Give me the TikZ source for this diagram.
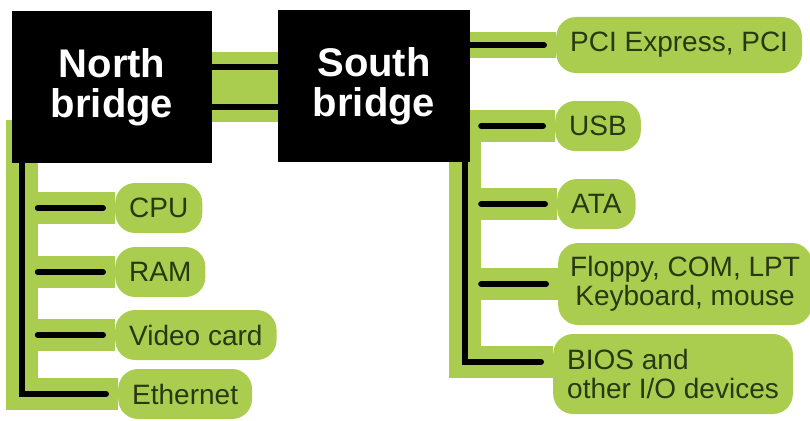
\documentclass[tikz,border=0pt]{standalone}
\usepackage{fontspec}
\setmainfont{Liberation Sans}
\usetikzlibrary{positioning,backgrounds}
\definecolor{busgreen}{RGB}{170,205,80}
\definecolor{labeltext}{RGB}{40,56,18}
\begin{document}
\begin{tikzpicture}[x=1pt, y=-1pt, line join=miter,
bridge node/.style={rectangle,fill=black,text=white,minimum width=200pt,minimum height=151pt,align=center,font=\fontsize{40}{40}\selectfont\bfseries},
dev node/.style={rectangle,rounded corners=20pt,fill=busgreen,text=labeltext,inner xsep=14pt,minimum height=50pt,anchor=west,align=left,font=\fontsize{28}{29}\selectfont},
bus halo/.style={draw=busgreen,line width=32pt,line cap=butt},
bus line/.style={draw=black,line width=6pt,line cap=round,shorten >=12pt}]
\useasboundingbox (0,0) rectangle (810,420);
\begin{scope}
\node[bridge node] (nb) at (112,87) {North\\bridge};
\node[bridge node, minimum width=192pt, minimum height=152pt] (sb) at (374,86) {South\\bridge};
\node[dev node] (cpu) at (115,208) {CPU};
\node[dev node] (ram) at (115,272) {RAM};
\node[dev node] (video) at (115,335) {Video card};
\node[dev node] (eth) at (118,394) {Ethernet};
\node[dev node, minimum height=56pt] (pci) at (556,45) {PCI Express, PCI};
\node[dev node] (usb) at (555,126) {USB};
\node[dev node] (ata) at (557,204) {ATA};
\node[dev node, align=center, minimum height=82pt, inner xsep=12pt] (floppy) at (558,284) {Floppy, COM, LPT\\Keyboard, mouse};
\node[dev node, minimum height=80pt] (bios) at (553,374) {BIOS and\\other I/O devices};
\coordinate (ltrunk) at ([xshift=10pt]nb.south west);
\coordinate (rtrunk) at ([xshift=-5pt]sb.south east);
\coordinate (biosin) at ([yshift=12pt]bios.west);
\end{scope}
% green bands
\begin{scope}[on background layer]
\draw[bus halo, line width=70pt] (nb.east) -- (nb.east -| sb.west);
\draw[bus halo] ([yshift=43pt]ltrunk) -- (ltrunk |- eth.west) -- (eth.west);
\draw[bus halo] (ltrunk |- cpu.west) -- (cpu.west);
\draw[bus halo] (ltrunk |- ram.west) -- (ram.west);
\draw[bus halo] (ltrunk |- video.west) -- (video.west);
\draw[bus halo, line width=26pt] (rtrunk |- pci.west) -- (pci.west);
\draw[bus halo] ([yshift=52pt]rtrunk) -- (rtrunk |- biosin) -- (biosin);
\draw[bus halo] (rtrunk |- usb.west) -- (usb.west);
\draw[bus halo] (rtrunk |- ata.west) -- (ata.west);
\draw[bus halo] (rtrunk |- floppy.west) -- (floppy.west);
\end{scope}
% black wires
\begin{scope}
\draw[bus line, line cap=butt, shorten >=0pt] ([yshift=20pt]nb.east) -- ([yshift=20pt]nb.east -| sb.west);
\draw[bus line, line cap=butt, shorten >=0pt] ([yshift=-20pt]nb.east) -- ([yshift=-20pt]nb.east -| sb.west);
\draw[bus line] (ltrunk) -- (ltrunk |- eth.west) -- (eth.west);
\draw[bus line, shorten <=16pt] (ltrunk |- cpu.west) -- (cpu.west);
\draw[bus line, shorten <=16pt] (ltrunk |- ram.west) -- (ram.west);
\draw[bus line, shorten <=16pt] (ltrunk |- video.west) -- (video.west);
\draw[bus line] (sb.east |- pci.west) -- (pci.west);
\draw[bus line] (rtrunk) -- (rtrunk |- biosin) -- (biosin);
\draw[bus line, shorten <=16pt] (rtrunk |- usb.west) -- (usb.west);
\draw[bus line, shorten <=16pt] (rtrunk |- ata.west) -- (ata.west);
\draw[bus line, shorten <=16pt] (rtrunk |- floppy.west) -- (floppy.west);
%\draw[bus line] () -- ();
\end{scope}
\end{tikzpicture}
\end{document}
